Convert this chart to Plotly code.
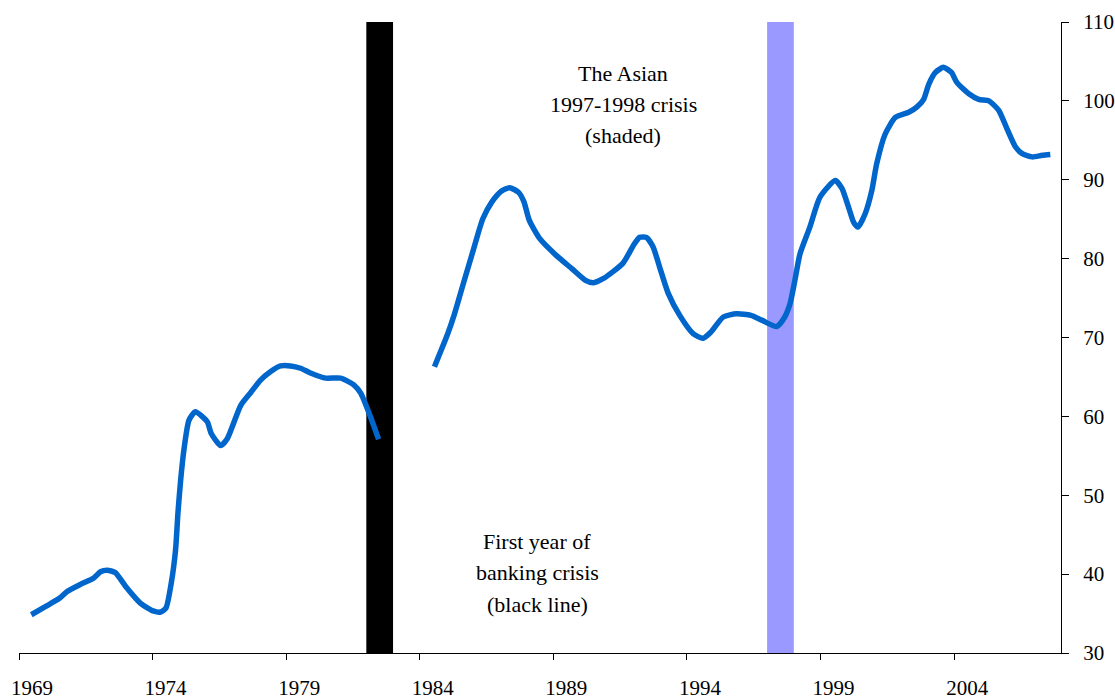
import plotly.graph_objects as go

# ---- data (x = position on time axis in years, y = index value) ----
years_1 = [1969.46, 1970.0, 1970.5, 1970.8, 1971.3, 1971.8, 1972.05, 1972.3, 1972.6, 1973.0,
           1973.55, 1974.05, 1974.3, 1974.5, 1974.7, 1974.86, 1974.95, 1975.05, 1975.17,
           1975.36, 1975.6, 1975.85, 1976.05, 1976.2, 1976.55, 1976.8, 1977.3, 1977.67,
           1978.04, 1978.42, 1978.79, 1979.16, 1979.54, 1979.91, 1980.48, 1981.04, 1981.53,
           1981.79, 1982.16, 1982.46]
values_1 = [34.85, 35.9, 36.9, 37.8, 38.7, 39.5, 40.3, 40.5, 40.2, 38.4,
            36.3, 35.3, 35.2, 35.7, 38.9, 43.1, 47.8, 51.9, 55.7,
            59.5, 60.6, 60.0, 59.3, 57.8, 56.3, 57.2, 61.4, 63.0,
            64.6, 65.7, 66.4, 66.4, 66.1, 65.5, 64.85, 64.85, 64.0,
            62.95, 59.9, 57.1]

years_2 = [1984.55, 1985.05, 1985.3, 1985.67, 1986.0, 1986.36, 1986.7, 1987.05, 1987.36, 1987.7,
           1987.9, 1988.1, 1988.5, 1989.05, 1989.7, 1990.2, 1990.5, 1990.86, 1991.6, 1992.0,
           1992.23, 1992.48, 1992.73, 1992.98, 1993.3, 1993.73, 1994.23, 1994.6, 1994.9,
           1995.36, 1995.86, 1996.4, 1996.8, 1997.36, 1997.66, 1997.86, 1998.04, 1998.23,
           1998.6, 1998.98, 1999.55, 1999.8, 2000.05, 2000.24, 2000.4, 2000.67, 2000.92,
           2001.1, 2001.42, 2001.8, 2002.3, 2002.6, 2002.86, 2003.05, 2003.3, 2003.6, 2003.9,
           2004.1, 2004.55, 2004.92, 2005.3, 2005.67, 2005.98, 2006.3, 2006.55, 2006.92,
           2007.3, 2007.6]
values_2 = [66.3, 70.5, 73.0, 77.3, 81.05, 85.05, 87.2, 88.55, 89.0, 88.4,
            87.2, 84.85, 82.5, 80.6, 78.7, 77.25, 76.95, 77.45, 79.4, 81.7,
            82.7, 82.7, 81.5, 78.9, 75.6, 72.8, 70.5, 69.9, 70.7,
            72.6, 73.0, 72.8, 72.2, 71.4, 72.6, 74.3, 77.25, 80.6,
            84.0, 87.8, 89.9, 88.9, 86.5, 84.6, 84.0, 85.7, 88.65,
            92.0, 95.8, 97.9, 98.55, 99.2, 100.2, 102.1, 103.6, 104.25, 103.6,
            102.35, 100.9, 100.2, 100.0, 98.8, 96.45, 94.15, 93.3, 92.9,
            93.1, 93.2]

banking_crisis = [1982, 1983]
asian_crisis = [1997, 1998]

x_tick_years = [1969, 1974, 1979, 1984, 1989, 1994, 1999, 2004]
x_tick_labels = [str(y) for y in x_tick_years]
y_ticks = [30, 40, 50, 60, 70, 80, 90, 100, 110]

asian_text = ["The Asian", "1997-1998 crisis", "(shaded)"]
banking_text = ["First year of", "banking crisis", "(black line)"]

FONT = "Liberation Serif, Times New Roman, serif"

fig = go.Figure()

fig.add_vrect(x0=banking_crisis[0], x1=banking_crisis[1], fillcolor="#000000",
              opacity=1, line_width=0, layer="below")
fig.add_vrect(x0=asian_crisis[0], x1=asian_crisis[1], fillcolor="#9999FF",
              opacity=1, line_width=0, layer="below")

fig.add_trace(go.Scatter(x=years_1 + [None] + years_2,
                         y=values_1 + [None] + values_2,
                         mode="lines", connectgaps=False,
                         line=dict(color="#0066CC", width=5.5, shape="spline", smoothing=0.6),
                         hoverinfo="skip", showlegend=False))

# annotations: one per line for the original line spacing
asian_y = [103.45, 99.53, 95.6]
bank_y = [44.09, 40.16, 36.11]
for txt, yy in zip(asian_text, asian_y):
    fig.add_annotation(x=1991.62, y=yy, text=txt, showarrow=False,
                       font=dict(family=FONT, size=22, color="#000000"),
                       xanchor="center", yanchor="middle")
for txt, yy in zip(banking_text, bank_y):
    fig.add_annotation(x=1988.4, y=yy, text=txt, showarrow=False,
                       font=dict(family=FONT, size=22, color="#000000"),
                       xanchor="center", yanchor="middle")

fig.update_layout(
    width=1115, height=700,
    margin=dict(l=19, r=54, t=22, b=47, autoexpand=False),
    paper_bgcolor="white", plot_bgcolor="white",
    font=dict(family=FONT, size=21, color="#000000"),
    showlegend=False,
    xaxis=dict(range=[1969, 2008], tickmode="array", tickvals=x_tick_years,
               ticktext=x_tick_labels, ticks="outside", ticklen=6, tickcolor="#000000",
               tickwidth=1, showline=True, linecolor="#000000", linewidth=1,
               showgrid=False, zeroline=False, ticklabelshift=13, ticklabelstandoff=10,
               automargin=False,
               tickfont=dict(family=FONT, size=21, color="#000000")),
    yaxis=dict(range=[30, 110], side="right", tickmode="array", tickvals=y_ticks,
               ticks="outside", ticklen=7, tickcolor="#000000", tickwidth=1,
               showline=True, linecolor="#000000", linewidth=1,
               showgrid=False, zeroline=False, ticklabelstandoff=10,
               automargin=False,
               tickfont=dict(family=FONT, size=21, color="#000000")),
)

fig.write_html("out.html", config={"displayModeBar": False},
               post_script="document.body.style.margin='0';document.body.style.padding='0';"
                           "document.documentElement.style.overflow='hidden';")
